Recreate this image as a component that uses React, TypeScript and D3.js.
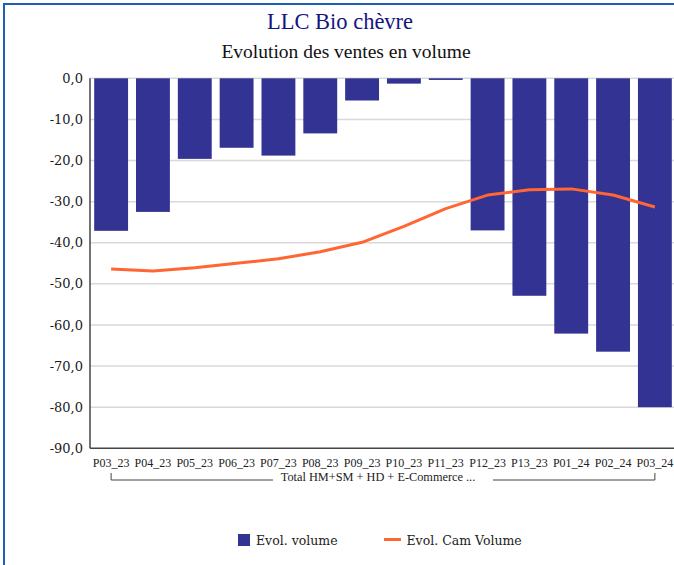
import React from "react";
import * as d3 from "d3";

const categories = ["P03_23","P04_23","P05_23","P06_23","P07_23","P08_23","P09_23","P10_23","P11_23","P12_23","P13_23","P01_24","P02_24","P03_24"];
const evolVolume = [-37.1,-32.5,-19.6,-16.9,-18.8,-13.4,-5.4,-1.3,-0.4,-37.0,-52.9,-62.1,-66.5,-80.0];
const evolCamVolume = [-46.4,-46.9,-46.1,-45.0,-43.9,-42.2,-39.9,-36.0,-31.7,-28.4,-27.1,-26.9,-28.4,-31.3];
const yTicks = [0,-10,-20,-30,-40,-50,-60,-70,-80,-90];
const title = "LLC Bio chèvre";
const subtitle = "Evolution des ventes en volume";
const groupLabel = "Total HM+SM + HD + E-Commerce ...";
const seriesNames = ["Evol. volume", "Evol. Cam Volume"];

const W = 674, H = 565;
const plot = { left: 90, right: 676, top: 78.3, bottom: 448.3 };
const barColor = "#333394";
const lineColor = "#ff6633";

export default function App() {
  const x = d3.scaleBand<string>().domain(categories).range([plot.left, plot.right]).paddingInner(0.19).paddingOuter(0.1);
  const y = d3.scaleLinear().domain([-90, 0]).range([plot.bottom, plot.top]);
  const fmt = (v: number) => d3.format(".1f")(v).replace("−", "-").replace(".", ",");
  const line = d3.line<number>().x((_, i) => (x(categories[i]) as number) + x.bandwidth() / 2).y((d) => y(d));
  const firstC = (x(categories[0]) as number) + x.bandwidth() / 2;
  const lastC = (x(categories[categories.length - 1]) as number) + x.bandwidth() / 2;
  const midX = (firstC + lastC) / 2;
  const bracketY = 480;
  const gapHalf = 110;
  return (
    <svg width={W} height={H} style={{ position: "absolute", left: 0, top: 0, background: "#fff" }}>
      <rect x={4} y={4} width={690} height={620} fill="#fff" stroke="#1f5fb4" strokeWidth={2} />
      <text x={340} y={29} textAnchor="middle" fontFamily="Liberation Serif" fontSize={22.5} fill="#141482">{title}</text>
      <text x={346} y={58} textAnchor="middle" fontFamily="Liberation Serif" fontSize={19.5} fill="#111">{subtitle}</text>
      {yTicks.slice(0, -1).map((t) => (
        <line key={t} x1={plot.left} x2={plot.right} y1={y(t)} y2={y(t)} stroke="#d9d9d9" strokeWidth={1.5} />
      ))}
      {evolVolume.map((v, i) => (
        <rect key={categories[i]} x={x(categories[i])} y={y(0)} width={x.bandwidth()} height={y(v) - y(0)} fill={barColor} />
      ))}
      <path d={line(evolCamVolume) || ""} fill="none" stroke={lineColor} strokeWidth={3} strokeLinejoin="round" />
      <line x1={plot.left} x2={plot.left} y1={plot.top} y2={plot.bottom} stroke="#444" strokeWidth={1.5} />
      <line x1={plot.left} x2={plot.right} y1={plot.bottom} y2={plot.bottom} stroke="#444" strokeWidth={1.5} />
      {yTicks.map((t) => (
        <text key={t} x={83} y={y(t)} dy="0.35em" textAnchor="end" fontFamily="DejaVu Serif" fontSize={13} fill="#1a1a1a">{fmt(t)}</text>
      ))}
      {categories.map((c) => (
        <text key={c} x={(x(c) as number) + x.bandwidth() / 2} y={467} textAnchor="middle" fontFamily="Liberation Serif" fontSize={12} fill="#222">{c}</text>
      ))}
      <path d={`M${firstC},${bracketY - 7}V${bracketY}H${midX - gapHalf}`} fill="none" stroke="#444" strokeWidth={1} />
      <path d={`M${midX + gapHalf},${bracketY}H${lastC}V${bracketY - 7}`} fill="none" stroke="#444" strokeWidth={1} />
      <text x={midX - 5} y={481} textAnchor="middle" fontFamily="Liberation Serif" fontSize={12.3} fill="#222">{groupLabel}</text>
      <rect x={238} y={534} width={12} height={12} fill={barColor} />
      <text x={256} y={540.5} dy="0.35em" fontFamily="DejaVu Serif" fontSize={12.5} fill="#222">{seriesNames[0]}</text>
      <line x1={384} x2={401} y1={539.5} y2={539.5} stroke={lineColor} strokeWidth={3} />
      <text x={406.5} y={540.5} dy="0.35em" fontFamily="DejaVu Serif" fontSize={12.5} fill="#222">{seriesNames[1]}</text>
    </svg>
  );
}
